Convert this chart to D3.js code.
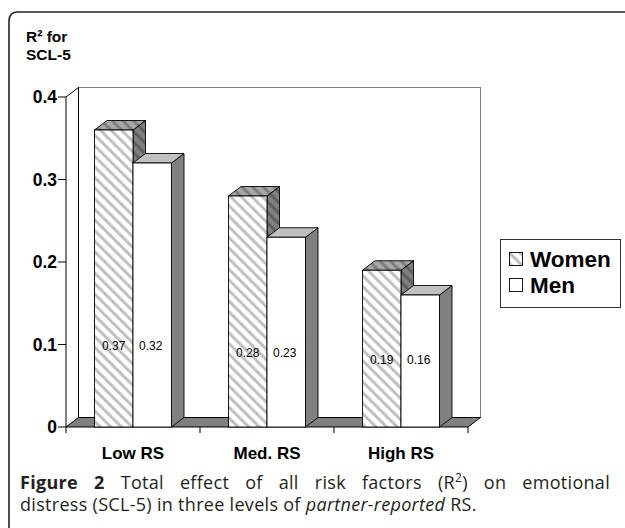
<!DOCTYPE html>
<html><head><meta charset="utf-8">
<script src="https://cdn.jsdelivr.net/npm/d3@7"></script>
<style>
html,body{margin:0;padding:0;background:#fff;}
svg{display:block;}
</style></head>
<body>
<svg id="chart" width="625" height="528"></svg>
<script>
// ---- data ----
const categories = ["Low RS", "Med. RS", "High RS"];
const seriesNames = ["Women", "Men"];
const womenValues = [0.36, 0.28, 0.19];
const menValues = [0.32, 0.23, 0.16];
const womenLabels = ["0.37", "0.28", "0.19"];
const menLabels = ["0.32", "0.23", "0.16"];
const labelLevels = [0.098, 0.09, 0.081];
const yTicks = [0, 0.1, 0.2, 0.3, 0.4];
const yTitle = ["R\u00B2 for", "SCL-5"];

const svg = d3.select("#chart");
const FONT = "'Liberation Sans', Arial, sans-serif";

// frame
svg.append("path")
  .attr("d", "M9,540 L9,21 Q9,12 18,12 L640,12")
  .attr("fill", "none").attr("stroke", "#222").attr("stroke-width", 1.6);

// scales
const x0 = d3.scaleBand().domain(categories).range([66, 468]);
const x1 = d3.scaleBand().domain(seriesNames).range([0, x0.bandwidth()]).paddingOuter(0.74).paddingInner(0);
const y = d3.scaleLinear().domain([0, 0.4]).range([427, 97]);
const DX = 12.5, DY = -9.5;

// patterns
const defs = svg.append("defs");
function stripePattern(id, bg, fg) {
  const p = defs.append("pattern").attr("id", id).attr("patternUnits", "userSpaceOnUse")
    .attr("width", 7.5).attr("height", 7.5).attr("patternTransform", "rotate(-45)");
  p.append("rect").attr("width", 7.5).attr("height", 7.5).attr("fill", bg);
  p.append("rect").attr("x", 0).attr("width", 3).attr("height", 7.5).attr("fill", fg);
}
stripePattern("wFront", "#ffffff", "#c0c0c0");
stripePattern("wTop", "#a8a8a8", "#7e7e7e");
stripePattern("wSide", "#808080", "#5e5e5e");

const y0v = y(0), yTopV = y(0.4);
const xL = x0.range()[0], xR = x0.range()[1];

// back wall
svg.append("rect").attr("x", xL + DX).attr("y", yTopV + DY)
  .attr("width", xR - xL).attr("height", y0v - yTopV)
  .attr("fill", "#fff").attr("stroke", "#808080").attr("stroke-width", 1);
svg.append("line").attr("x1", xL).attr("y1", yTopV).attr("x2", xL + DX).attr("y2", yTopV + DY)
  .attr("stroke", "#000").attr("stroke-width", 1);
svg.append("line").attr("x1", xL + DX).attr("y1", yTopV + DY).attr("x2", xL + DX).attr("y2", y0v + DY)
  .attr("stroke", "#000").attr("stroke-width", 1);
// floor
svg.append("path")
  .attr("d", `M${xL},${y0v} L${xR},${y0v} L${xR + DX},${y0v + DY} L${xL + DX},${y0v + DY} Z`)
  .attr("fill", "#808080").attr("stroke", "#000").attr("stroke-width", 1);

// y axis
svg.append("line").attr("x1", xL).attr("x2", xL).attr("y1", y(0)).attr("y2", y(0.4))
  .attr("stroke", "#000").attr("stroke-width", 1);
const yt = svg.append("g");
yTicks.forEach(t => {
  yt.append("line").attr("x1", xL - 8).attr("x2", xL).attr("y1", y(t)).attr("y2", y(t))
    .attr("stroke", "#000").attr("stroke-width", 1);
  yt.append("text").attr("x", xL - 9).attr("y", y(t)).attr("dy", "0.36em")
    .attr("text-anchor", "end").attr("font-family", FONT).attr("font-weight", "bold")
    .attr("font-size", 17.5).text(t === 0 ? "0" : d3.format(".1f")(t));
});
[xL, x0(categories[1]), x0(categories[2]), xR].forEach(xx => {
  svg.append("line").attr("x1", xx).attr("x2", xx).attr("y1", y0v).attr("y2", y0v + 6)
    .attr("stroke", "#000").attr("stroke-width", 1);
});

// bars
function drawBar(xs, w, v, front, top, side) {
  const yt_ = y(v), yb = y(0);
  svg.append("path")
    .attr("d", `M${xs + w},${yb} L${xs + w + DX},${yb + DY} L${xs + w + DX},${yt_ + DY} L${xs + w},${yt_} Z`)
    .attr("fill", side).attr("stroke", "#000").attr("stroke-width", 0.9);
  svg.append("path")
    .attr("d", `M${xs},${yt_} L${xs + w},${yt_} L${xs + w + DX},${yt_ + DY} L${xs + DX},${yt_ + DY} Z`)
    .attr("fill", top).attr("stroke", "#000").attr("stroke-width", 0.9);
  svg.append("rect").attr("x", xs).attr("y", yt_).attr("width", w).attr("height", yb - yt_)
    .attr("fill", front).attr("stroke", "#000").attr("stroke-width", 0.9);
}
categories.forEach((c, i) => {
  const bw = x1.bandwidth();
  const xw = x0(c) + x1("Women");
  const xm = x0(c) + x1("Men");
  drawBar(xw, bw, womenValues[i], "url(#wFront)", "url(#wTop)", "url(#wSide)");
  drawBar(xm, bw, menValues[i], "#ffffff", "#c0c0c0", "#808080");
  svg.append("text").attr("x", xw + bw / 2).attr("y", y(labelLevels[i])).attr("dy", "0.35em")
    .attr("text-anchor", "middle").attr("font-family", FONT).attr("font-size", 12).text(womenLabels[i]);
  svg.append("text").attr("x", xm + bw / 2 - 1.5).attr("y", y(labelLevels[i])).attr("dy", "0.35em")
    .attr("text-anchor", "middle").attr("font-family", FONT).attr("font-size", 12).text(menLabels[i]);
  svg.append("text").attr("x", x0(c) + x0.bandwidth() / 2).attr("y", 459)
    .attr("text-anchor", "middle").attr("font-family", FONT).attr("font-weight", "bold")
    .attr("font-size", 17).text(c);
});

// y title
yTitle.forEach((t, i) => {
  svg.append("text").attr("x", 26).attr("y", 42 + i * 18).attr("font-family", FONT)
    .attr("font-weight", "bold").attr("font-size", 15.5).text(t);
});

// legend
const lg = svg.append("g");
lg.append("rect").attr("x", 500.5).attr("y", 239.5).attr("width", 120).attr("height", 68)
  .attr("fill", "#fff").attr("stroke", "#333").attr("stroke-width", 1);
const legendFills = ["url(#wFront)", "#ffffff"];
seriesNames.forEach((s, i) => {
  lg.append("rect").attr("x", 509.5).attr("y", 252.5 + i * 26).attr("width", 13).attr("height", 13)
    .attr("fill", legendFills[i]).attr("stroke", "#000").attr("stroke-width", 0.9);
  lg.append("text").attr("x", 530).attr("y", 267 + i * 26).attr("font-family", FONT)
    .attr("font-weight", "bold").attr("font-size", 22.5).text(s);
});

// caption
const CF = "'Open Sans', 'Noto Sans', sans-serif";
const CS = 18;
const cap1 = svg.append("text").attr("x", 20).attr("y", 489).attr("font-family", CF)
  .attr("font-size", CS).attr("letter-spacing", 0.3).attr("fill", "#231f20");
cap1.append("tspan").attr("font-weight", "bold").text("Figure 2");
cap1.append("tspan").text(" Total effect of all risk factors (R");
cap1.append("tspan").attr("font-size", 12).attr("dy", -7).text("2");
cap1.append("tspan").attr("dy", 7).text(") on emotional");

const cap2 = svg.append("text").attr("x", 20).attr("y", 511).attr("font-family", CF)
  .attr("font-size", CS).attr("letter-spacing", 0.3).attr("fill", "#231f20");
cap2.append("tspan").text("distress (SCL-5) in three levels of ");
cap2.append("tspan").attr("font-style", "italic").text("partner-reported");
cap2.append("tspan").text(" RS.");

function justify() {
  const target = 590, nSp = 10;
  let ws = 0;
  cap1.attr("word-spacing", 0);
  for (let k = 0; k < 4; k++) {
    const L = cap1.node().getComputedTextLength();
    ws += (target - L) / nSp;
    ws = Math.max(-2, Math.min(20, ws));
    cap1.attr("word-spacing", ws);
  }
  const bb = cap1.node().getBBox();
  if (bb.x + bb.width > 612) {
    cap1.attr("word-spacing", 0);
    const L0 = cap1.node().getBBox().width;
    cap1.attr("word-spacing", Math.max(0, (target - L0) / nSp));
  }
}
justify();
if (document.fonts && document.fonts.ready) document.fonts.ready.then(justify);
</script>
</body></html>
